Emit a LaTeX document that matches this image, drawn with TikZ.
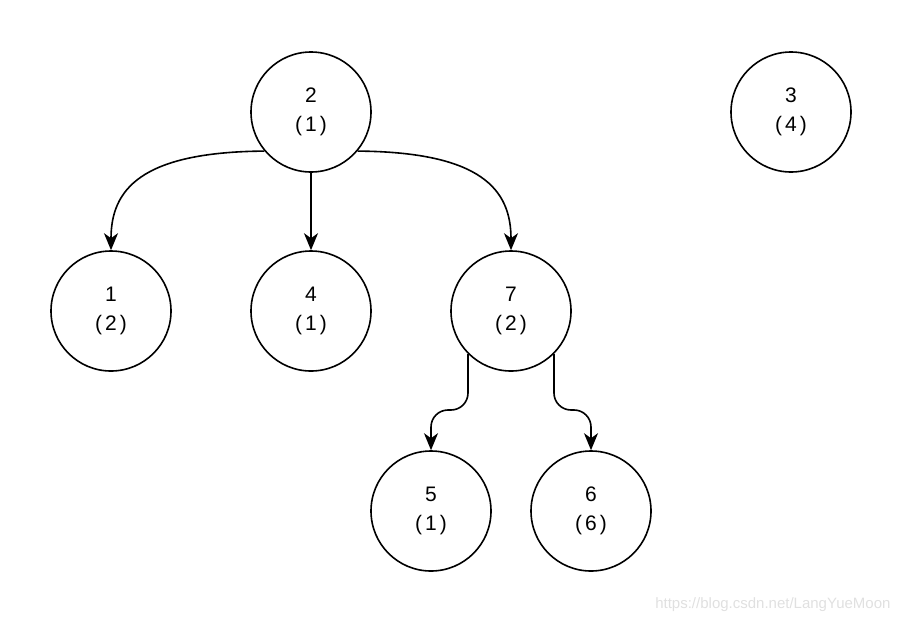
\documentclass[tikz,border=0pt]{standalone}
\usepackage{fontspec}
\setmainfont{Liberation Sans}
\usetikzlibrary{arrows.meta}
\newcommand{\pn}[1]{(\kern3pt#1\kern3pt)}
\begin{document}
\begin{tikzpicture}[x=1pt,y=-1pt,
  nd/.style={circle,draw=black,line width=1.6pt,minimum size=120pt,inner sep=0pt,align=center,
    font=\fontsize{21}{29}\selectfont},
  arr/.style={line width=1.6pt,-{Stealth[length=17pt,width=14pt,inset=5pt]}}]
\useasboundingbox (0,0) rectangle (902,622);
\node[nd] (n2) at (311,112) {2\\\pn{1}};
\node[nd] (n3) at (791,112) {3\\\pn{4}};
\node[nd] (n1) at (111,311) {1\\\pn{2}};
\node[nd] (n4) at (311,311) {4\\\pn{1}};
\node[nd] (n7) at (511,311) {7\\\pn{2}};
\node[nd] (n5) at (431,511) {5\\\pn{1}};
\node[nd] (n6) at (591,511) {6\\\pn{6}};
\draw[arr] (n2.220) .. controls (140,152) and (111,190) .. (n1.north);
\draw[arr] (n2.south) -- (n4.north);
\draw[arr] (n2.320) .. controls (482,152) and (511,190) .. (n7.north);
\draw[arr,rounded corners=17pt] (n7.225) -- ++(0,56) -| (n5.north);
\draw[arr,rounded corners=17pt] (n7.315) -- ++(0,56) -| (n6.north);
\node[anchor=east,text=black!12,font=\fontsize{15}{18}\selectfont] (wm) at (894,605) {https://blog.csdn.net/LangYueMoon};
\end{tikzpicture}
\end{document}
